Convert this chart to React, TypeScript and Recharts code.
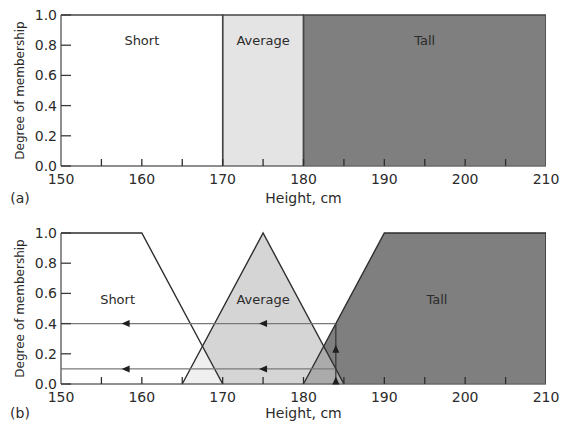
import React from "react";
import { ComposedChart, Area, Line, Scatter, XAxis, YAxis, Label } from "recharts";

// (a) crisp sets: corner points, h = height in cm, m = degree of membership
const crispShort = [{ h: 150, m: 1 }, { h: 170, m: 1 }, { h: 170, m: 0 }];
const crispAverage = [{ h: 170, m: 0 }, { h: 170, m: 1 }, { h: 180, m: 1 }, { h: 180, m: 0 }];
const crispTall = [{ h: 180, m: 0 }, { h: 180, m: 1 }, { h: 210, m: 1 }, { h: 210, m: 0 }];

// (b) fuzzy sets
const fuzzyShort = [{ h: 150, m: 1 }, { h: 160, m: 1 }, { h: 170, m: 0 }];
const fuzzyAverage = [{ h: 165, m: 0 }, { h: 175, m: 1 }, { h: 185, m: 0 }];
const fuzzyTall = [{ h: 180, m: 0 }, { h: 190, m: 1 }, { h: 210, m: 1 }, { h: 210, m: 0 }];

// reading off a 184 cm person: 0.4 tall, 0.1 average
const readTall = [{ h: 150, m: 0.4 }, { h: 184, m: 0.4 }];
const readAverage = [{ h: 150, m: 0.1 }, { h: 184, m: 0.1 }];
const readVertical = [{ h: 184, m: 0 }, { h: 184, m: 0.4 }];
const leftArrows = [
  { h: 157.5, m: 0.4 },
  { h: 174.5, m: 0.4 },
  { h: 157.5, m: 0.1 },
  { h: 174.5, m: 0.1 },
];
const upArrows = [{ h: 184, m: 0.26 }, { h: 184, m: 0.05 }];

const crispNames = [
  { h: 160, m: 0.83, name: "Short" },
  { h: 175, m: 0.83, name: "Average" },
  { h: 195, m: 0.83, name: "Tall" },
];
const fuzzyNames = [
  { h: 157, m: 0.56, name: "Short" },
  { h: 175, m: 0.56, name: "Average" },
  { h: 196.5, m: 0.56, name: "Tall" },
];

const xTicks = [150, 155, 160, 165, 170, 175, 180, 185, 190, 195, 200, 205, 210];
const yTicks = [0, 0.2, 0.4, 0.6, 0.8, 1];
// inward tick marks on the height axis, drawn above the fills
const xTickMarks = [155, 160, 165, 170, 175, 180, 185, 190, 195, 200, 205].map((h) => ({ h, m: 0 }));

const FONT = "DejaVu Sans";
const INK = "#2b2b2b";
const AXIS = "#6a6a6a";

function XTick(props: any) {
  const { x, y, payload } = props;
  const v = payload.value;
  if (v % 10 !== 0) return <g />;
  return (
    <text x={x} y={y + 13} textAnchor="middle" dominantBaseline="central" fontSize={14} fontFamily={FONT} fill={INK}>
      {v}
    </text>
  );
}

function YTick(props: any) {
  const { x, y, payload } = props;
  return (
    <g>
      <line x1={x} y1={y} x2={x + 10} y2={y} stroke="#3a3a3a" strokeWidth={1.3} />
      <text x={x - 4} y={y} textAnchor="end" dominantBaseline="central" fontSize={14} fontFamily={FONT} fill={INK}>
        {payload.value.toFixed(1)}
      </text>
    </g>
  );
}

const tickMark = (p: any) => (
  <line x1={p.cx} y1={p.cy} x2={p.cx} y2={p.cy - 7} stroke="#2e2e2e" strokeWidth={1.3} />
);
const leftArrow = (p: any) => (
  <path d={`M${p.cx},${p.cy} l8,-3.5 l0,7 z`} fill="#1e1e1e" />
);
const upArrow = (p: any) => (
  <path d={`M${p.cx},${p.cy} l-3.5,8 l7,0 z`} fill="#1e1e1e" />
);
const setName = (p: any) => (
  <text x={p.cx} y={p.cy} textAnchor="middle" dominantBaseline="central" fontSize={13} fontFamily={FONT} fill={INK}>
    {p.payload.name}
  </text>
);

function Panel({ tag, fuzzy, top }: { tag: string; fuzzy: boolean; top: number }) {
  const short = fuzzy ? fuzzyShort : crispShort;
  const average = fuzzy ? fuzzyAverage : crispAverage;
  const tall = fuzzy ? fuzzyTall : crispTall;
  const marginTop = fuzzy ? 18 : 15;
  const axisHeight = fuzzy ? 46 : 49;
  const outline = fuzzy ? "#2e2e2e" : "#444";
  const titleGap = fuzzy ? 29 : 32;

  return (
    <div style={{ position: "absolute", left: 0, top }}>
      <ComposedChart width={562} height={215} margin={{ top: marginTop, right: 16, bottom: 0, left: 0 }}>
        <XAxis
          type="number"
          dataKey="h"
          domain={[150, 210]}
          ticks={xTicks}
          interval={0}
          tickSize={0}
          tickMargin={0}
          tickLine={false}
          tick={<XTick />}
          axisLine={{ stroke: AXIS, strokeWidth: 1.5 }}
          height={axisHeight}
          allowDataOverflow
        >
          <Label
            content={(p: any) => {
              const vb = p.viewBox;
              return (
                <g fontFamily={FONT} fontSize={14} fill={INK}>
                  <text x={vb.x + vb.width / 2} y={vb.y + titleGap} textAnchor="middle" dominantBaseline="central">
                    Height, cm
                  </text>
                  <text x={20} y={vb.y + titleGap} textAnchor="middle" dominantBaseline="central">
                    {tag}
                  </text>
                </g>
              );
            }}
          />
        </XAxis>
        <YAxis
          type="number"
          dataKey="m"
          domain={[0, 1]}
          ticks={yTicks}
          interval={0}
          tickSize={0}
          tickMargin={0}
          tickLine={false}
          tick={<YTick />}
          axisLine={{ stroke: AXIS, strokeWidth: 1.5 }}
          width={61}
        >
          <Label
            content={(p: any) => {
              const vb = p.viewBox;
              const cy = vb.y + vb.height / 2;
              return (
                <text
                  transform={`translate(20,${cy}) rotate(-90)`}
                  textAnchor="middle"
                  dominantBaseline="central"
                  fontFamily={FONT}
                  fontSize={12}
                  fill={INK}
                >
                  Degree of membership
                </text>
              );
            }}
          />
        </YAxis>

        {/* fills first, outlines after so overlaps do not wash out the edges */}
        <Area data={tall} dataKey="m" type="linear" fill="#7f7f7f" fillOpacity={1} stroke="none" isAnimationActive={false} />
        <Area
          data={average}
          dataKey="m"
          type="linear"
          fill={fuzzy ? "#c1c1c1" : "#e4e4e4"}
          fillOpacity={fuzzy ? 0.67 : 1}
          stroke="none"
          isAnimationActive={false}
        />
        <Area
          data={short}
          dataKey="m"
          type="linear"
          fill="#ffffff"
          fillOpacity={fuzzy ? 0.62 : 0}
          stroke="none"
          isAnimationActive={false}
        />

        <Line data={tall} dataKey="m" type="linear" stroke={outline} strokeWidth={1.4} dot={false} isAnimationActive={false} />
        <Line data={average} dataKey="m" type="linear" stroke={outline} strokeWidth={1.4} dot={false} isAnimationActive={false} />
        <Line data={short} dataKey="m" type="linear" stroke={outline} strokeWidth={1.4} dot={false} isAnimationActive={false} />

        {fuzzy && (
          <Line data={readTall} dataKey="m" type="linear" stroke="#7a7a7a" strokeWidth={1.2} dot={false} isAnimationActive={false} />
        )}
        {fuzzy && (
          <Line data={readAverage} dataKey="m" type="linear" stroke="#7a7a7a" strokeWidth={1.2} dot={false} isAnimationActive={false} />
        )}
        {fuzzy && (
          <Line data={readVertical} dataKey="m" type="linear" stroke="#333" strokeWidth={1.2} dot={false} isAnimationActive={false} />
        )}
        {fuzzy && <Scatter data={leftArrows} dataKey="m" shape={leftArrow} isAnimationActive={false} />}
        {fuzzy && <Scatter data={upArrows} dataKey="m" shape={upArrow} isAnimationActive={false} />}

        <Scatter data={xTickMarks} dataKey="m" shape={tickMark} isAnimationActive={false} />
        <Scatter data={fuzzy ? fuzzyNames : crispNames} dataKey="m" shape={setName} isAnimationActive={false} />
      </ComposedChart>
    </div>
  );
}

export default function App() {
  return (
    <div style={{ position: "absolute", left: 0, top: 0, width: 562, height: 430, background: "#fff" }}>
      <Panel tag="(a)" fuzzy={false} top={0} />
      <Panel tag="(b)" fuzzy={true} top={215} />
    </div>
  );
}
